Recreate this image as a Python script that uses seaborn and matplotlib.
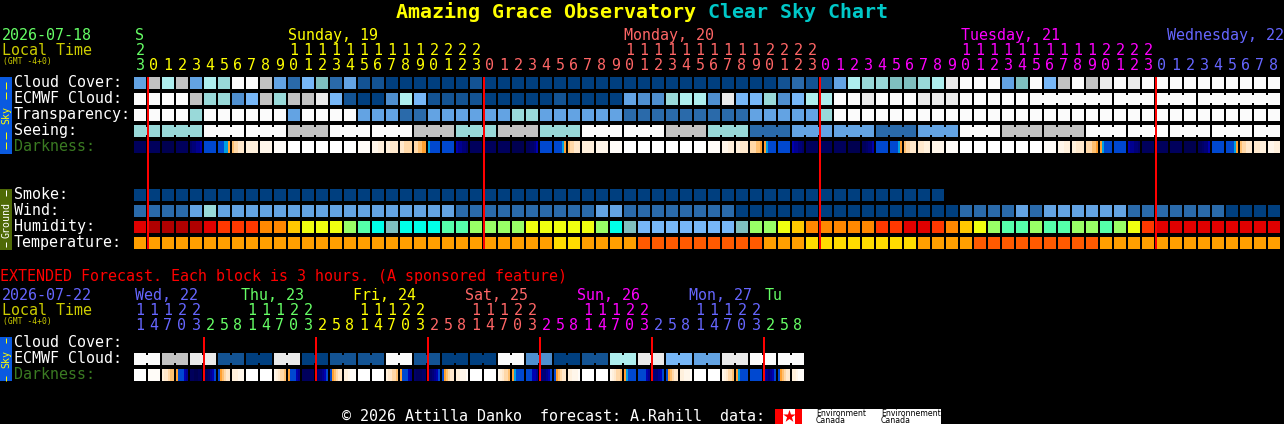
import numpy as np
import pandas as pd
import matplotlib
matplotlib.use('Agg')
import matplotlib.pyplot as plt
from matplotlib.colors import ListedColormap
from matplotlib.patches import Rectangle
import seaborn as sns

# Sky block colours, one letter per forecast class
sky_colors = {'K': '#003f7f', 'N': '#135393', 'D': '#2a6aaa', 'P': '#4f8fcf', 'M': '#63a3e3',
              'L': '#77b7f7', 't': '#7fbfbf', 'T': '#99d9d9', 'A': '#aeeeee', 'G': '#c2c2c2',
              'g': '#eaeaea', 'W': '#fbfbfb'}
humidity_colors = {'r': '#b00000', 'R': '#e00000', 'O': '#ff3800', 'o': '#ff8800', 'y': '#ffc800',
                   'Y': '#f0ff10', 'G': '#99ff66', 'g': '#55ffaa', 'C': '#00ffe8', 't': '#7fbfbf',
                   'L': '#77b7f7'}
temperature_colors = {'o': '#ff9f00', 'y': '#ffdc00', 'r': '#ff5a00'}
darkness_colors = {'a': '#000050', 'b': '#00005c', 'c': '#000068', 'd': '#000078', 'e': '#000090',
                   'f': '#0000b0', 'h': '#0048d0', 'i': '#00a0e0', 'k': '#ffa030', 'l': '#ffc070',
                   'm': '#ffd8a8', 'n': '#ffe8cc', 'o': '#fff0dc', 'p': '#fff6ea', 'q': '#fffcf8',
                   'r': '#ffffff'}

# Main forecast, one letter per hour
cloud_cover = ('MGAGMATWWGMDLtDMNNKKK' 'KKKNKKKKKKKKKKKKKKKKKKKKKNDNNM'
               'ATTttTAgWWWMtWLGWGgWgW' 'WWWWWWWWW')
ecmwf_cloud = ('WWWWGTTPLGTGGgLNKKPAL' 'NNNNKKKKKNKKKKMPPTAAPgLLTPLAAWW'
               'gWWWggg' 'WWWWWWWWWWWWWWWWWWWWWWW')
ecmwf_groups = [1] * 64 + [6, 3, 3, 6]
transparency = ('WWWWTWWWWWWMWWWWMMMDD' 'MMMMMMTTMMMMMMDDDDDDDDDMMMMMT'
                'WWWWWWWWWWWWWWWWWWWWWWWWWWWWWWWW')
seeing_groups = [2] + [3] * 26 + [2]
seeing_values = 'TTWWGWWGTGTWWGTDMMDMWGGWWWWW'
smoke = 'KKKKKKKKKKKKKKKKKKKKKKKKKKKKKKKKKKKKKKKKKKKKKKKKKKKKKKKKKK'
wind = ('DDDDMT' 'MMMMMMMMMMMMMMM' 'MM' 'DDDDDDDDDD' 'MM' 'DDDDDDDD'
        'KKKKKKKKKKKKKKKK' 'DDDD' 'MD' 'MMMMMM' 'DDDDDDD' 'KKKK')
humidity = ('RrrrrROOOooyYYYGgCtCC' 'CggGGGGYYYYYGCtLLLLLLLtGGYyoooo'
            'oOORROoyYGggGggGGgGYO' 'RRRRRRRRR')
temperature = ('oooooooooooooooooooooooooooooo' 'yy' 'oooo' 'rrrrrrrrr' 'ooo' 'yyyyyyyy'
               'oooo' 'rrrrrrrrr' 'ooooooooooooo')
darkness = ['bbbbbb', 'bbbbbb', 'aaaaaa', 'bbbbbb', 'cddeef', 'hhhhhh', 'hhhiik', 'lmmnnn',
            'oooooo', 'pppppp', 'qqqqqq', 'rrrrrr', 'rrrrrr', 'rrrrrr', 'rrrrrr', 'rrrrrr',
            'qqqqqq', 'pppooo', 'oonnnn', 'nnmmmm', 'mmllkk', 'ihhhhh', 'hhhhhh', 'feeddc',
            'bbbbbb', 'bbbbbb', 'bbbbbb', 'aaaaaa', 'bbccdf', 'hhhhhh', 'hhhhik', 'lmmnnn',
            'oooooo', 'pppppp', 'qqqqqq', 'rrrrrr', 'rrrrrr', 'rrrrrr', 'rrrrrr', 'rrrrrr',
            'rrrrrr', 'qqqqqq', 'pppooo', 'oonnnn', 'mmmllk', 'kihhhh', 'hhhhhh', 'feeddc',
            'bbbbbb', 'bbbbbb', 'bbbbbb', 'aaaaaa', 'bbcddf', 'hhhhhh', 'hhhhik', 'lmmnnn',
            'nnnooo', 'pppppp', 'qqqqqq', 'rrrrrr', 'rrrrrr', 'rrrrrr', 'rrrrrr', 'rrrrrr',
            'rrrrrr', 'qqqqqq', 'pppooo', 'oonnnn', 'mmmllk', 'kihhhh', 'hhhhhh', 'feeddc',
            'bbbbbb', 'bbbbbb', 'bbbbbb', 'aaaaaa', 'bbcddf', 'hhhhhh', 'hhhhik', 'lmmnnn',
            'nnnooo', 'pppooo']

# Extended forecast, one letter per 3 hour block
ext_ecmwf = 'WWGGggNNKKggKKNNNNWWNNKKKKWWPPKKNNAAggLLMMggWWWW'
ext_groups = [2] * 24
ext_darkness = ['rrrrrr', 'qqqqqq', 'onnmll', 'khhhfe', 'bbaabb', 'bbcefh', 'hklmnn', 'oooppp',
                'rrrrrr', 'rrrrrr', 'ponmml', 'khhhfe', 'bbbbbb', 'cddefh', 'hklmnn', 'oopqqq',
                'rrrrrr', 'rrrrrr', 'onnmml', 'khhhfe', 'cbbbcc', 'bcdefh', 'hklmnn', 'oopppq',
                'rrrrrr', 'rrrrrr', 'ponmml', 'kihhhh', 'hhhffe', 'dddefh', 'hklmnn', 'oopppq',
                'rrrrrr', 'rrrrrr', 'ponmml', 'kihhhh', 'hhhhfe', 'dddefh', 'hklmnn', 'oopppq',
                'rrrrrr', 'rrrrrr', 'ponmml', 'kihhhh', 'hhhhhh', 'fedefh', 'hklmnn', 'oopqqq']

# Time axis labels
hour_ones = '3012345678901234567890123012345678901234567890123012345678901234567890123012345678'
hour_tens = '2          11111111112222          11111111112222          11111111112222         '
hour_days = [1, 24, 24, 24, 9]
hour_day_colors = ['#66ff66', '#ffff00', '#ff6666', '#ff00ff', '#6666ff']
day_labels = ['S', 'Sunday, 19', 'Monday, 20', 'Tuesday, 21', 'Wednesday, 22']
day_label_x = [135, 288, 624, 961, 1167]
midnights = [1, 25, 49, 73]

ext_ones = '147032581470325814703258147032581470325814703258'
ext_tens = '11122   11122   11122   11122   11122   11122   '
ext_days = [5, 8, 8, 8, 8, 8, 3]
ext_day_colors = ['#6666ff', '#66ff66', '#ffff00', '#ff6666', '#ff00ff', '#6666ff', '#66ff66']
ext_labels = ['Wed, 22', 'Thu, 23', 'Fri, 24', 'Sat, 25', 'Sun, 26', 'Mon, 27', 'Tu']
ext_label_x = [135, 241, 353, 465, 577, 689, 765]
ext_midnights = [5, 13, 21, 29, 37, 45]

sns.set_style('dark', {'axes.facecolor': 'black', 'figure.facecolor': 'black'})
plt.rcParams['font.family'] = ['DejaVu Sans Mono']

W, H = 1284, 424
LEFT = 134
PITCH = 14
fig = plt.figure(figsize=(W / 100, H / 100), dpi=100, facecolor='black')


def row_axes(x, top, width, height):
    return fig.add_axes([x / W, 1 - (top + height) / H, width / W, height / H])


def draw_row(codes, colors, top, cols=82, groups=None):
    keys = list(colors)
    df = pd.DataFrame([[keys.index(c) for c in codes] + [np.nan] * (cols - len(codes))])
    ax = row_axes(LEFT - 1, top - 1, cols * PITCH, PITCH)
    sns.heatmap(df, ax=ax, mask=df.isna(), cmap=ListedColormap(list(colors.values())),
                vmin=-0.5, vmax=len(keys) - 0.5, cbar=False, linewidths=1.44, linecolor='black',
                xticklabels=False, yticklabels=False)
    ax.set_facecolor('black')
    if groups is not None:
        # blocks of one forecast run are joined by a narrower bridge
        start = 0
        for size in groups:
            if size > 1:
                ax.bar(np.arange(start + 1, start + size), 8 / 14, bottom=3 / 14, width=2 / 14,
                       color=[colors[c] for c in codes[start:start + size - 1]], linewidth=0, zorder=5)
            start += size
        ax.set_xlim(0, cols)
        ax.set_ylim(1, 0)
    return ax


def draw_darkness(samples, top):
    keys = list(darkness_colors)
    values = []
    for cell in samples:
        values += [keys.index(c) for c in cell] + [np.nan]
    df = pd.DataFrame([values])
    ax = row_axes(LEFT, top, len(samples) * PITCH, 12)
    sns.heatmap(df, ax=ax, mask=df.isna(), cmap=ListedColormap(list(darkness_colors.values())),
                vmin=-0.5, vmax=len(keys) - 0.5, cbar=False, xticklabels=False, yticklabels=False)
    ax.set_facecolor('black')


# Main chart rows
draw_row(cloud_cover, sky_colors, 77)
draw_row(ecmwf_cloud, sky_colors, 93, groups=ecmwf_groups)
draw_row(transparency, sky_colors, 109)
seeing = ''.join(v * n for v, n in zip(seeing_values, seeing_groups))
draw_row(seeing, sky_colors, 125, groups=seeing_groups)
draw_darkness(darkness, 141)
draw_row(smoke, sky_colors, 189)
draw_row(wind, sky_colors, 205)
draw_row(humidity, humidity_colors, 221)
draw_row(temperature, temperature_colors, 237)

# Extended chart rows
draw_row(ext_ecmwf, sky_colors, 353, cols=48, groups=ext_groups)
draw_darkness(ext_darkness, 369)

# Midnight lines
lines = row_axes(LEFT, 77, 82 * PITCH, 172)
lines.patch.set_alpha(0)
lines.bar(midnights, 1, width=2 / 14, color='#ff0000', linewidth=0)
lines.set_xlim(0, 82)
lines.set_ylim(0, 1)
lines.axis('off')
ext_lines = row_axes(LEFT, 337, 48 * PITCH, 44)
ext_lines.patch.set_alpha(0)
ext_lines.bar(ext_midnights, 1, width=2 / 14, color='#ff0000', linewidth=0)
ext_lines.set_xlim(0, 48)
ext_lines.set_ylim(0, 1)
ext_lines.axis('off')

# Everything else goes on a pixel overlay
top = fig.add_axes([0, 0, 1, 1], zorder=10)
top.set_xlim(0, W)
top.set_ylim(H, 0)
top.axis('off')

MED = 10.8


def txt(x, y, s, color='white', size=MED, **kw):
    top.text(x, y, s, color=color, fontsize=size, va='baseline', ha=kw.pop('ha', 'left'), **kw)


def cell_x(col):
    return LEFT + PITCH * col + 6


def header(ones, tens, day_sizes, day_colors, labels, label_x, y_day, y_tens, y_ones):
    col_colors = np.repeat(day_colors, day_sizes)
    for col, ch in enumerate(ones):
        txt(cell_x(col), y_ones, ch, col_colors[col], ha='center')
    for col, ch in enumerate(tens):
        if ch != ' ':
            txt(cell_x(col), y_tens, ch, col_colors[col], ha='center')
    for x, label, color in zip(label_x, labels, day_colors):
        txt(x, y_day, label, color)


# Title
txt(396, 18, 'Amazing Grace Observatory', '#ffff00', size=14.4, fontweight='bold')
txt(708, 18, 'Clear Sky Chart', '#00c8c8', size=14.4, fontweight='bold')

# Main header
txt(2, 40, '2026-07-18', '#66ff66')
txt(2, 55, 'Local Time', '#cccc00')
txt(3, 64, '(GMT -4+0)', '#cccc00', size=5.8)
header(hour_ones, hour_tens, hour_days, hour_day_colors, day_labels, day_label_x, 40, 55, 69.5)

for label, y, color in [('Cloud Cover:', 87, 'white'), ('ECMWF Cloud:', 103, 'white'),
                        ('Transparency:', 119, 'white'), ('Seeing:', 135, 'white'),
                        ('Darkness:', 151, '#3a7a22'), ('Smoke:', 199, 'white'), ('Wind:', 215, 'white'),
                        ('Humidity:', 231, 'white'), ('Temperature:', 247, 'white'),
                        ('Cloud Cover:', 347, 'white'), ('ECMWF Cloud:', 363, 'white'),
                        ('Darkness:', 379, '#3a7a22')]:
    txt(14, y, label, color)

# Side bars
for y0, y1, color, label, tcolor, label_y, dashes in [
        (77, 154, '#0a5ae0', 'Sky', '#ffff00', 115.5, [(82, 89), (92, 99), (132, 139), (142, 149)]),
        (189, 250, '#4f6a06', 'Ground', 'white', 219.5, [(190, 196), (242, 247)]),
        (337, 381, '#0a5ae0', 'Sky', '#ffff00', 359, [(338, 343), (376, 381)])]:
    top.add_patch(Rectangle((0, y0), 12, y1 - y0, color=color, linewidth=0))
    top.text(6, label_y, label, color=tcolor, fontsize=7.2, rotation=90, ha='center', va='center')
    for d0, d1 in dashes:
        top.vlines(5.5, d0, d1, color=tcolor, linewidth=0.72)

# Extended section
txt(0, 281, 'EXTENDED Forecast. Each block is 3 hours. (A sponsored feature)', '#ff0000')
txt(2, 300, '2026-07-22', '#6666ff')
txt(2, 315, 'Local Time', '#cccc00')
txt(3, 324, '(GMT -4+0)', '#cccc00', size=5.8)
header(ext_ones, ext_tens, ext_days, ext_day_colors, ext_labels, ext_label_x, 300, 315, 330)

# Footer and logo
txt(342, 421, '© 2026 Attilla Danko  forecast: A.Rahill  data:')
top.add_patch(Rectangle((775, 409), 166, 15, color='white', linewidth=0))
top.add_patch(Rectangle((775, 409), 8, 15, color='#ff0000', linewidth=0))
top.add_patch(Rectangle((795, 409), 7, 15, color='#ff0000', linewidth=0))
top.scatter([789], [416], marker='*', s=90, color='#ff0000', linewidth=0)
for x, word in [(816, 'Environment'), (881, 'Environnement')]:
    top.text(x, 415.7, word, color='black', fontsize=5.6, family='DejaVu Sans')
    top.text(x, 423, 'Canada', color='black', fontsize=5.6, family='DejaVu Sans')

fig.savefig('out.png', dpi=100, facecolor='black')
